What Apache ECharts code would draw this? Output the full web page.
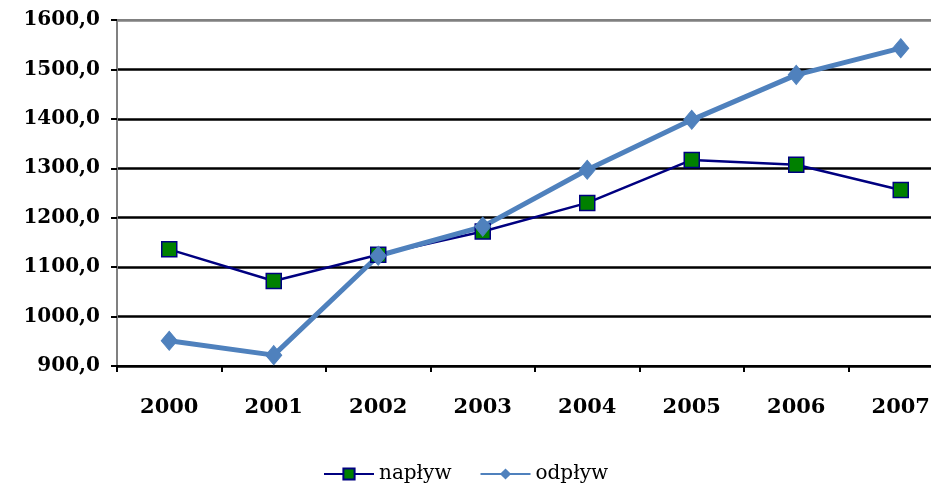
<!DOCTYPE html>
<html>
<head>
<meta charset="utf-8">
<script src="https://cdn.jsdelivr.net/npm/echarts@6/dist/echarts.min.js"></script>
<style>
  html, body { margin: 0; padding: 0; background: #fff; overflow: hidden; }
  #chart { width: 953px; height: 493px; }
</style>
</head>
<body>
<div id="chart"></div>
<script>
// dane
const years = ['2000', '2001', '2002', '2003', '2004', '2005', '2006', '2007']
const naplyw = [1136, 1072, 1125, 1172, 1230, 1317, 1307, 1256]
const odplyw = [951, 922, 1123, 1182, 1297, 1398, 1489, 1543]

// wykres jest szerszy niż okno, prawa krawędź obszaru wykresu jest ucięta
const myChart = echarts.init(document.getElementById('chart'))

const font = 'DejaVu Serif'

const option = {
  animation: false,
  backgroundColor: '#fff',
  grid: {
    left: 117,
    right: 0,
    top: 20,
    bottom: 127,
    show: true,
    borderColor: '#808080',
    borderWidth: 2
  },
  legend: {
    bottom: 4,
    left: 318,
    itemWidth: 50,
    itemHeight: 14,
    itemGap: 28,
    textStyle: {
      fontFamily: font,
      fontSize: 20,
      color: '#000'
    },
    data: ['napływ', 'odpływ']
  },
  xAxis: {
    type: 'category',
    data: years,
    boundaryGap: true,
    axisLine: { lineStyle: { color: '#000', width: 2 } },
    axisTick: { show: true, length: 6, lineStyle: { color: '#000', width: 2 } },
    axisLabel: {
      margin: 31,
      fontFamily: font,
      fontSize: 21,
      fontWeight: 'bold',
      color: '#000'
    }
  },
  yAxis: {
    type: 'value',
    min: 900,
    max: 1600,
    interval: 100,
    axisLine: { show: true, lineStyle: { color: '#808080', width: 2 } },
    axisTick: { show: true, length: 6, lineStyle: { color: '#000', width: 2 } },
    axisLabel: {
      margin: 17,
      fontFamily: font,
      fontSize: 20,
      fontWeight: 'bold',
      color: '#000',
      formatter: v => v.toFixed(1).replace('.', ',')
    },
    splitLine: {
      show: true,
      lineStyle: {
        color: ['#000', '#000', '#000', '#000', '#000', '#000', '#000', '#808080'],
        width: 2.5
      }
    }
  },
  series: [
    {
      name: 'napływ',
      type: 'line',
      data: naplyw,
      symbol: 'rect',
      symbolSize: 15,
      lineStyle: { color: '#000080', width: 2.5 },
      itemStyle: { color: '#008000', borderColor: '#000080', borderWidth: 1.5 }
    },
    {
      name: 'odpływ',
      type: 'line',
      data: odplyw,
      symbol: 'diamond',
      symbolSize: [16, 19],
      lineStyle: { color: '#4F81BD', width: 5 },
      itemStyle: { color: '#4F81BD', borderColor: '#4F81BD' }
    }
  ]
}

myChart.setOption(option)

window.addEventListener('resize', () => {
  myChart.resize()
})
</script>
</body>
</html>
